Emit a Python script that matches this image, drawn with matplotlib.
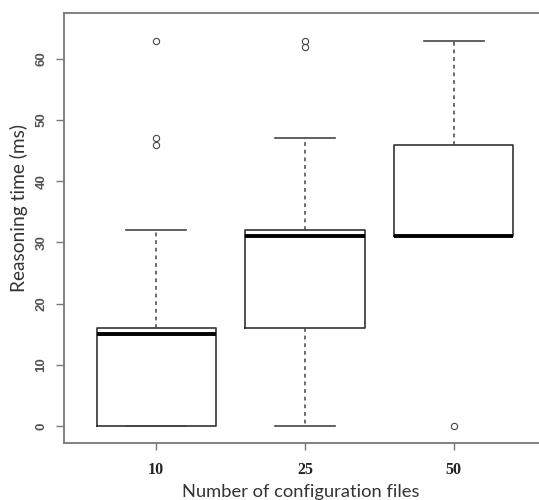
import matplotlib
matplotlib.use("Agg")
import matplotlib.pyplot as plt

# values
groups = ["10", "25", "50"]
q1 = [0, 16, 31]
med = [15, 31, 31]
q3 = [16, 32, 46]
whis_lo = [0, 0, 31]
whis_hi = [32, 47, 63]
fliers = [[63, 47, 46], [63, 62], [0]]

stats = []
for i in range(len(groups)):
    stats.append(dict(med=med[i], q1=q1[i], q3=q3[i],
                      whislo=whis_lo[i], whishi=whis_hi[i],
                      fliers=fliers[i], label=groups[i]))

fig = plt.figure(figsize=(5.39, 5.0), dpi=100)
# R crops the right edge of the plot box, so the axes runs past the figure
ax = fig.add_axes([64/539, 57/500, (546-64)/539, (443-13)/500])

boxc = "#333333"
ax.bxp(stats, positions=[1, 2, 3], widths=0.8, patch_artist=False,
       boxprops=dict(color=boxc, linewidth=1.2),
       medianprops=dict(color="black", linewidth=2.8, solid_capstyle="butt"),
       whiskerprops=dict(color="#444444", linewidth=1.1, linestyle=(0, (2.5, 2.5))),
       capprops=dict(color="#444444", linewidth=1.2),
       capwidths=0.4,
       flierprops=dict(marker="o", markersize=4.5, markerfacecolor="none",
                       markeredgecolor="#444444", markeredgewidth=0.8))

ax.set_xlim(0.38, 3.62)
ax.set_ylim(-2.8, 67.5)

for s in ax.spines.values():
    s.set_color("#777777")
    s.set_linewidth(1.3)

ax.set_yticks([0, 10, 20, 30, 40, 50, 60])
ax.set_yticklabels(["0", "10", "20", "30", "40", "50", "60"], rotation=90,
                   va="center", fontsize=9.5, color="#555555",
                   fontfamily="Liberation Sans", fontweight="bold")
ax.tick_params(axis="y", length=6, width=1, color="#777777", pad=6)

ax.set_xticks([1, 2, 3])
ax.set_xticklabels(groups, fontsize=11.5, fontfamily="Liberation Serif",
                   fontweight="bold", color="#222222")
ax.tick_params(axis="x", length=5, width=1, color="#777777", pad=9)

ax.set_ylabel("Reasoning time (ms)", fontsize=13.8, fontfamily="Lato",
              color="#333333")
ax.set_xlabel("Number of configuration files", fontsize=13.2, fontfamily="Lato",
              color="#333333")
ax.xaxis.set_label_coords((301-64)/(546-64), -0.095)
ax.yaxis.set_label_coords(-0.075, (443-208)/430)

fig.savefig("out.png", dpi=100)
